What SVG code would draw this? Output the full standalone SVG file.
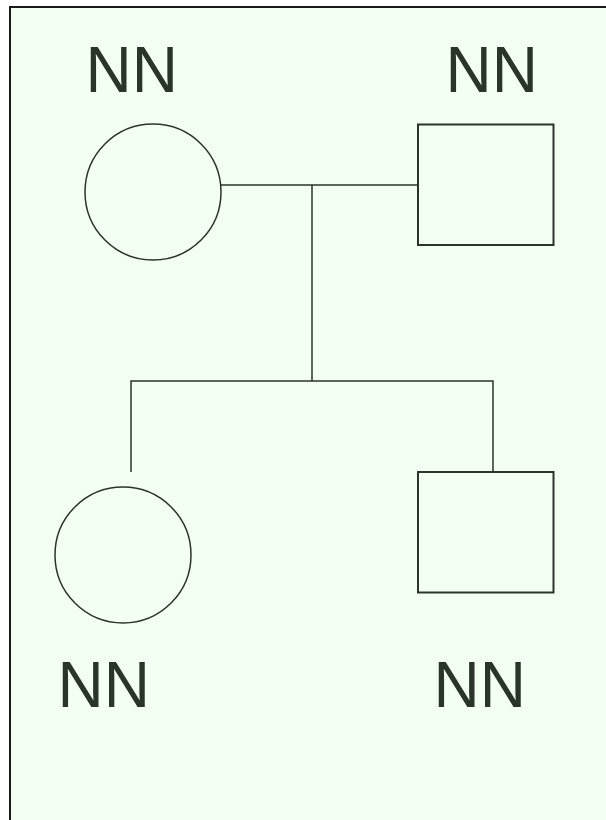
<svg xmlns="http://www.w3.org/2000/svg" width="606" height="820" viewBox="0 0 606 820">
<style>
.lbl{font-family:"Liberation Sans",Arial,sans-serif;font-size:64px;fill:#2a352a}
.shape{fill:none;stroke:#2a352a;stroke-width:1.5}
.box{fill:none;stroke:#2a352a;stroke-width:2}
.conn{fill:none;stroke:#2a352a;stroke-width:1.5}
</style>
<rect x="0" y="0" width="606" height="820" fill="#ffffff"/>
<rect x="10" y="7" width="620" height="840" fill="#f4fff4" stroke="#1a1a1a" stroke-width="2"/>
<g id="connectors">
<line class="conn" x1="221" y1="185" x2="418" y2="185"/>
<line class="conn" x1="312" y1="185" x2="312" y2="381"/>
<polyline class="conn" points="131,472 131,381 493,381 493,472"/>
</g>
<g id="mother">
<circle class="shape" cx="153" cy="192" r="68"/>
<text class="lbl" x="85.5" y="92">NN</text>
</g>
<g id="father">
<rect class="box" x="418" y="124.5" width="135.5" height="120.5"/>
<text class="lbl" x="445.5" y="92">NN</text>
</g>
<g id="daughter">
<circle class="shape" cx="123" cy="555" r="68"/>
<text class="lbl" x="57.5" y="706.5">NN</text>
</g>
<g id="son">
<rect class="box" x="418" y="472" width="135.5" height="120.5"/>
<text class="lbl" x="433.5" y="706.5">NN</text>
</g>
</svg>
